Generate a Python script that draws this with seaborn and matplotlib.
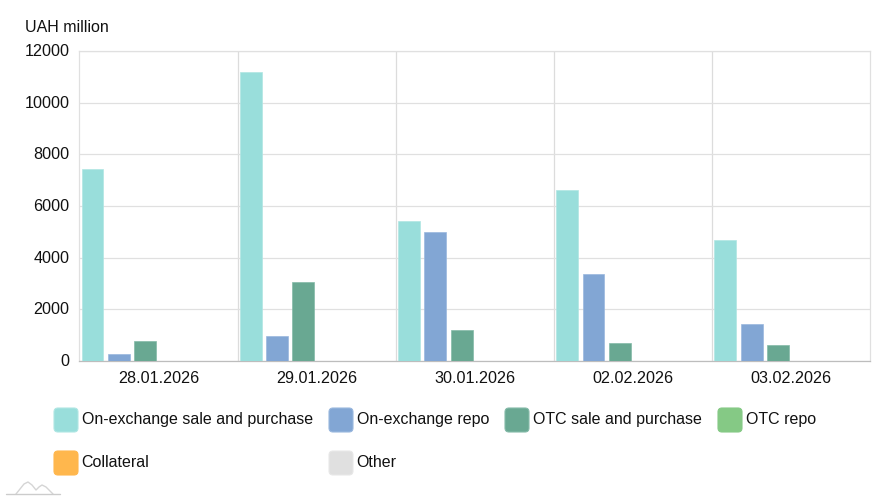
"""Daily trading volumes by segment, grouped bars."""

import pandas as pd
import matplotlib.pyplot as plt
from matplotlib.lines import Line2D
from matplotlib.patches import FancyBboxPatch
from matplotlib.transforms import ScaledTranslation
import seaborn as sns

dates = ["28.01.2026", "29.01.2026", "30.01.2026", "02.02.2026", "03.02.2026"]
series_names = ["On-exchange sale and purchase", "On-exchange repo", "OTC sale and purchase",
                "OTC repo", "Collateral", "Other"]
exchange_sale = [7450, 11200, 5420, 6620, 4680]
exchange_repo = [270, 970, 5000, 3350, 1450]
otc_sale = [790, 3050, 1200, 680, 620]
otc_repo = [15, 12, 12, 12, 12]
collateral = [15, 15, 12, 12, 12]
other = [0, 0, 0, 0, 0]
colors = ["#99dedb", "#82a6d4", "#69a892", "#85c985", "#ffb74d", "#e0e0e0"]
edge_colors = ["#b0e6e3", "#9ab8de", "#84baa8", "#85c985", "#ffb74d", "#e8e8e8"]
y_ticks = [0, 2000, 4000, 6000, 8000, 10000, 12000]

W, H = 891, 500

sns.set_theme(style="white")
plt.rcParams["font.family"] = ["Liberation Sans", "DejaVu Sans"]

rows = []
for name, vals in zip(series_names, [exchange_sale, exchange_repo, otc_sale, otc_repo, collateral, other]):
    for d, v in zip(dates, vals):
        rows.append({"date": d, "series": name, "value": v})
df = pd.DataFrame(rows)

fig = plt.figure(figsize=(W / 100, H / 100), dpi=100)
ax = fig.add_axes([79.3 / W, 1 - 361 / H, 791 / W, 310 / H])

sns.barplot(data=df, x="date", y="value", hue="series", hue_order=series_names, palette=colors,
            width=1, gap=0.17, saturation=1, legend=False, ax=ax, zorder=3)
for cont, ec in zip(ax.containers, edge_colors):
    for bar in cont:
        bar.set_edgecolor(ec)
        bar.set_linewidth(0.5)

ax.set_xlim(-0.5, 4.5)
ax.set_ylim(0, 12000)
ax.set_yticks(y_ticks)
ax.set_xticks([i + 0.5 for i in range(4)], minor=True)
ax.set_xlabel("")
ax.set_ylabel("")
ax.tick_params(axis="both", which="major", length=0, labelsize=11.65, colors="#111111")
ax.tick_params(axis="x", which="major", pad=7.5)
ax.tick_params(axis="y", which="major", pad=7)
ax.tick_params(axis="x", which="minor", length=0)
ax.grid(True, axis="y", which="major", color="#e0e0e0", lw=0.9, zorder=0)
ax.grid(True, axis="x", which="minor", color="#dcdcdc", lw=0.9, zorder=0)
ax.set_axisbelow(True)
for side in ["top", "right", "left"]:
    ax.spines[side].set_color("#e0e0e0")
    ax.spines[side].set_linewidth(0.9)
ax.spines["bottom"].set_color("#bdbdbd")
ax.spines["bottom"].set_linewidth(0.9)

# the original y labels sit just above their gridlines
up = ScaledTranslation(0, 1 / 100, fig.dpi_scale_trans)
for lab in ax.get_yticklabels():
    lab.set_transform(lab.get_transform() + up)

fig.text(25 / W, 1 - 27 / H, "UAH million", fontsize=11.5, color="#111111", va="center")

# legend sits on its own irregular grid
legend_pos = [(54, 408), (329, 408), (505, 408), (718, 408), (54, 451), (329, 451)]
for (px, py), name, c, ec in zip(legend_pos, series_names, colors, edge_colors):
    fig.add_artist(FancyBboxPatch((px + 3, H - py - 21), 18, 18, boxstyle="round,pad=3,rounding_size=4",
                                  transform=None, facecolor=c, edgecolor=ec, lw=0.8))
    fig.text((px + 27.6) / W, 1 - (py + 11.5) / H, name, fontsize=11.5, color="#111111", va="center")

# small watermark logo
logo_x = [16, 20, 24, 28, 32, 36, 39, 42, 46, 50, 53]
logo_y = [494, 489, 484, 482, 485, 490, 487, 485, 487, 491, 494]
fig.add_artist(Line2D([x / W for x in logo_x], [1 - y / H for y in logo_y], color="#d5d5d5", lw=1))
fig.add_artist(Line2D([6 / W, 60 / W], [1 - 494 / H, 1 - 494 / H], color="#cccccc", lw=1))

fig.savefig("out.png", dpi=100)
